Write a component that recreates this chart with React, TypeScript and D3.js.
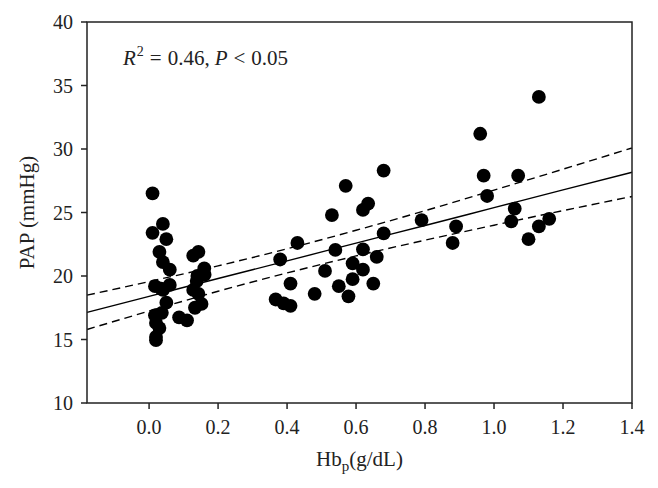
import React from "react";
import * as d3 from "d3";

// Hb_p (g/dL) values
const hbp: number[] = [
  0.01, 0.04, 0.01, 0.05, 0.03, 0.04, 0.06, 0.017, 0.035, 0.06, 0.04, 0.05, 0.017, 0.037, 0.02, 0.03, 0.02, 0.02, 0.087, 0.11,
  0.128, 0.143, 0.16, 0.161, 0.14, 0.128, 0.143, 0.152, 0.133, 0.138,
  0.38, 0.43, 0.41, 0.367, 0.39, 0.41, 0.48, 0.51, 0.53, 0.54, 0.55, 0.57, 0.578, 0.59, 0.59, 0.62, 0.635, 0.62, 0.62, 0.66, 0.65, 0.68, 0.68, 0.79, 0.88, 0.89,
  0.96, 0.97, 0.98, 1.05, 1.06, 1.07, 1.1, 1.13, 1.13, 1.16,
];
// PAP (mmHg) values
const pap: number[] = [
  26.5, 24.1, 23.4, 22.9, 21.9, 21.1, 20.5, 19.2, 19.0, 19.3, 18.9, 17.9, 16.9, 17.1, 16.3, 15.9, 15.2, 14.95, 16.75, 16.5,
  21.6, 21.9, 20.6, 20.1, 20.0, 18.9, 18.6, 17.8, 17.5, 19.6,
  21.3, 22.6, 19.4, 18.15, 17.85, 17.65, 18.6, 20.4, 24.8, 22.05, 19.2, 27.1, 18.4, 21.0, 19.75, 25.2, 25.7, 22.1, 20.5, 21.5, 19.4, 28.3, 23.35, 24.4, 22.6, 23.9,
  31.2, 27.9, 26.3, 24.3, 25.3, 27.9, 22.9, 23.9, 34.1, 24.5,
];

// Regression line and 95% confidence band
const fitX: number[] = [-0.18, 0.0, 0.2, 0.4, 0.6, 0.8, 1.0, 1.2, 1.4];
const fitY: number[] = [17.14, 18.4, 19.8, 21.19, 22.59, 23.98, 25.38, 26.78, 28.17];
const upperY: number[] = [18.49, 19.56, 20.8, 22.14, 23.6, 25.14, 26.76, 28.41, 30.08];
const lowerY: number[] = [15.79, 17.24, 18.8, 20.24, 21.58, 22.82, 24.0, 25.15, 26.26];

const xTicks: number[] = [0.0, 0.2, 0.4, 0.6, 0.8, 1.0, 1.2, 1.4];
const yTicks: number[] = [10, 15, 20, 25, 30, 35, 40];

const W = 658;
const H = 488;
const left = 87;
const right = 632;
const top = 22;
const bottom = 403;
const FONT = "'Liberation Serif', 'DejaVu Serif', serif";

export default function App() {
  const x = d3.scaleLinear().domain([-0.18, 1.4]).range([left, right]);
  const y = d3.scaleLinear().domain([10, 40]).range([bottom, top]);
  const line = d3
    .line<[number, number]>()
    .x((d) => x(d[0]))
    .y((d) => y(d[1]))
    .curve(d3.curveMonotoneX);
  const fitPath = line(fitX.map((v, i) => [v, fitY[i]] as [number, number])) || "";
  const upPath = line(fitX.map((v, i) => [v, upperY[i]] as [number, number])) || "";
  const loPath = line(fitX.map((v, i) => [v, lowerY[i]] as [number, number])) || "";

  return (
    <svg
      width={W}
      height={H}
      style={{ position: "absolute", left: 0, top: 0, background: "#fff" }}
      fontFamily={FONT}
    >
      <rect x={0} y={0} width={W} height={H} fill="#fff" />
      {/* regression lines */}
      <path d={fitPath} fill="none" stroke="#000" strokeWidth={1.4} />
      <path d={upPath} fill="none" stroke="#000" strokeWidth={1.4} strokeDasharray="8,5" />
      <path d={loPath} fill="none" stroke="#000" strokeWidth={1.4} strokeDasharray="8,5" />
      {/* points */}
      {hbp.map((v, i) => (
        <circle key={i} cx={x(v)} cy={y(pap[i])} r={6.9} fill="#000" />
      ))}
      {/* frame */}
      <rect
        x={left}
        y={top}
        width={right - left}
        height={bottom - top}
        fill="none"
        stroke="#222"
        strokeWidth={1.5}
      />
      {/* x ticks */}
      {xTicks.map((t) => (
        <g key={"x" + t}>
          <line x1={x(t)} x2={x(t)} y1={bottom} y2={bottom + 6} stroke="#222" strokeWidth={1.5} />
          <text x={x(t)} y={bottom + 31} textAnchor="middle" fontSize={20} fill="#222">
            {d3.format(".1f")(t)}
          </text>
        </g>
      ))}
      {/* y ticks */}
      {yTicks.map((t) => (
        <g key={"y" + t}>
          <line x1={left - 6} x2={left} y1={y(t)} y2={y(t)} stroke="#222" strokeWidth={1.5} />
          <text x={left - 14} y={y(t) + 7} textAnchor="end" fontSize={20} fill="#222">
            {t}
          </text>
        </g>
      ))}
      {/* axis labels */}
      <text x={(left + right) / 2} y={466} textAnchor="middle" fontSize={21} fill="#222">
        Hb
        <tspan fontSize={15} dy={5}>p</tspan>
        <tspan dy={-5}>(g/dL)</tspan>
      </text>
      <text
        transform={`translate(34, ${(top + bottom) / 2}) rotate(-90)`}
        textAnchor="middle"
        fontSize={21}
        fill="#222"
      >
        PAP (mmHg)
      </text>
      {/* annotation */}
      <text x={123} y={65} fontSize={21} fill="#222">
        <tspan fontStyle="italic">R</tspan>
        <tspan fontSize={14} dy={-9} dx={1}>2</tspan>
        <tspan dy={9} dx={6}>=</tspan>
        <tspan dx={6}>0.46,</tspan>
        <tspan dx={5} fontStyle="italic">P</tspan>
        <tspan dx={6}>&lt;</tspan>
        <tspan dx={6}>0.05</tspan>
      </text>
    </svg>
  );
}
